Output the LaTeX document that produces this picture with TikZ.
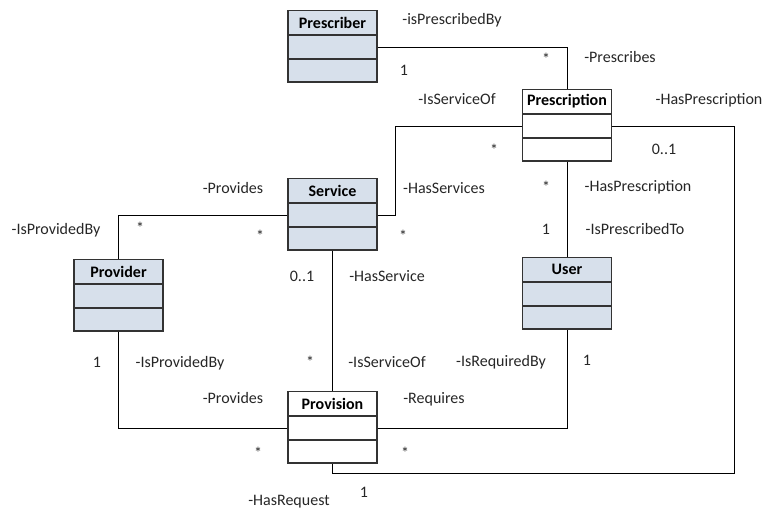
\documentclass[tikz,border=0pt]{standalone}
\usepackage{fontspec}
\setmainfont{Carlito}
\usetikzlibrary{positioning}
\definecolor{classfill}{HTML}{D7E0EB}
\definecolor{classline}{HTML}{333333}

\begin{document}
\begin{tikzpicture}[x=0.75pt, y=-0.75pt, font=\fontsize{12}{14}\selectfont,
  classhead/.style={draw=classline, line width=0.9pt, fill=classfill, minimum width=66.75pt, minimum height=18pt, inner sep=0pt, anchor=north, font=\fontsize{12}{14}\selectfont\bfseries},
  classpart/.style={draw=classline, line width=0.9pt, fill=classfill, minimum width=66.75pt, minimum height=16.9pt, inner sep=0pt},
  plainclass/.style={fill=white},
  assoc/.style={draw=black, line width=0.6pt},
  role/.style={anchor=base, inner sep=0pt, text=black!85}]
  \useasboundingbox (0,0) rectangle (766,508);

  % classes
  \node[classhead] (prescriber) at (332.5,10) {Prescriber};
  \node[classpart, below=0pt of prescriber] (prescriber-a) {};
  \node[classpart, below=0pt of prescriber-a] (prescriber-b) {};

  \node[classhead, plainclass] (prescription) at (567,89) {Prescription};
  \node[classpart, plainclass, below=0pt of prescription] (prescription-a) {};
  \node[classpart, plainclass, below=0pt of prescription-a] (prescription-b) {};

  \node[classhead] (service) at (332.5,178) {Service};
  \node[classpart, below=0pt of service] (service-a) {};
  \node[classpart, below=0pt of service-a] (service-b) {};

  \node[classhead] (provider) at (118.5,259) {Provider};
  \node[classpart, below=0pt of provider] (provider-a) {};
  \node[classpart, below=0pt of provider-a] (provider-b) {};

  \node[classhead] (user) at (567,257) {User};
  \node[classpart, below=0pt of user] (user-a) {};
  \node[classpart, below=0pt of user-a] (user-b) {};

  \node[classhead, plainclass] (provision) at (332.5,391) {Provision};
  \node[classpart, plainclass, below=0pt of provision] (provision-a) {};
  \node[classpart, plainclass, below=0pt of provision-a] (provision-b) {};

  % associations
  \coordinate (loopcorner) at (734,473);
  \draw[assoc] (prescriber-a.east) -| (prescription.north);
  \draw[assoc] (service-a.east) -- ++(18,0) |- (prescription-a.west);
  \draw[assoc] (prescription-a.east) -| (loopcorner) -| (provision-b.south);
  \draw[assoc] (prescription-b.south) -- (user.north);
  \draw[assoc] (service-a.west) -| (provider.north);
  \draw[assoc] (service-b.south) -- (provision.north);
  \draw[assoc] (provider-b.south) |- (provision-a.west);
  \draw[assoc] (provision-a.east) -| (user-b.south);

  % roles and multiplicities
  \node[role] (r-isprescribedby) at (452,24) {-isPrescribedBy};
  \node[role] (m-prescriber) at (404,75) {1};
  \node[role] (m-prescribes) at (546,64) {*};
  \node[role] (r-prescribes) at (620,62) {-Prescribes};
  \node[role] (r-isserviceof1) at (457,104) {-IsServiceOf};
  \node[role] (r-hasprescription1) at (709,104) {-HasPrescription};
  \node[role] (m-isserviceof1) at (494,155) {*};
  \node[role] (m-hasprescription1) at (664,154) {0..1};
  \node[role] (r-provides1) at (233,193) {-Provides};
  \node[role] (r-hasservices) at (444,193) {-HasServices};
  \node[role] (r-isprovidedby1) at (56,234) {-IsProvidedBy};
  \node[role] (m-isprovidedby1) at (140,233) {*};
  \node[role] (m-provides1) at (260,241) {*};
  \node[role] (m-hasservices) at (403,241) {*};
  \node[role] (m-hasprescription2) at (546,192) {*};
  \node[role] (r-hasprescription2) at (638,191) {-HasPrescription};
  \node[role] (m-isprescribedto) at (546,234) {1};
  \node[role] (r-isprescribedto) at (635,234) {-IsPrescribedTo};
  \node[role] (m-hasservice) at (302,281) {0..1};
  \node[role] (r-hasservice) at (387,281) {-HasService};
  \node[role] (m-isprovidedby2) at (97,367) {1};
  \node[role] (r-isprovidedby2) at (180,367) {-IsProvidedBy};
  \node[role] (m-isserviceof2) at (310,367) {*};
  \node[role] (r-isserviceof2) at (387,367) {-IsServiceOf};
  \node[role] (r-isrequiredby) at (501,366) {-IsRequiredBy};
  \node[role] (m-isrequiredby) at (587,365) {1};
  \node[role] (r-provides2) at (233,403) {-Provides};
  \node[role] (r-requires) at (434,403) {-Requires};
  \node[role] (m-provides2) at (258,458) {*};
  \node[role] (m-requires) at (405,458) {*};
  \node[role] (r-hasrequest) at (289,505) {-HasRequest};
  \node[role] (m-hasrequest) at (364,497) {1};
\end{tikzpicture}
\end{document}
